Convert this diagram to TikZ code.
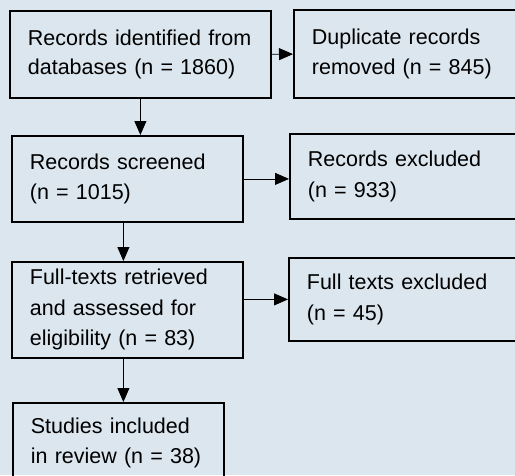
\documentclass[tikz,border=0pt]{standalone}
\usepackage{fontspec}
\setmainfont{Liberation Sans}[WordSpace=0.7]
\usepackage{tikz}
\usetikzlibrary{arrows.meta, positioning}
\definecolor{bgblue}{RGB}{219,230,238}

\begin{document}
\begin{tikzpicture}[
        x=1pt, y=-1pt,
        every node/.style={font=\fontsize{21.5}{30.5}\selectfont},
        stage/.style={draw, line width=1.8pt, anchor=north west, align=left,
          inner xsep=18pt, inner ysep=0pt},
        flow/.style={-{Triangle[length=14pt, width=12pt]}, line width=0.8pt},
    ]
        \fill[bgblue] (0,0) rectangle (515,475);
        \useasboundingbox (0,0) rectangle (515,475);
        \clip (0,0) rectangle (515,475);

        % left column
        \node[stage, minimum width=261pt, minimum height=87pt, text width=225pt]
          at (9,10) (identified) {\raisebox{-2pt}{Records identified from}\\databases (n = 1860)};
        \node[stage, minimum width=231pt, minimum height=86pt, text width=195pt]
          at (11,135) (screened) {Records screened\\(n = 1015)};
        \node[stage, minimum width=231pt, minimum height=96pt, text width=195pt]
          at (11,261) (fulltext) {Full-texts retrieved\\and assessed for\\eligibility (n = 83)};
        \node[stage, minimum width=211pt, minimum height=80pt, text width=175pt]
          at (12,402) (included) {Studies included\\in review (n = 38)};

        % right column
        \node[stage, minimum width=240pt, minimum height=88pt, text width=204pt]
          at (293,9) (duplicates) {Duplicate records\\removed (n = 845)};
        \node[stage, minimum width=240pt, minimum height=85pt, text width=204pt]
          at (289,133) (excluded) {Records excluded\\(n = 933)};
        \node[stage, minimum width=240pt, minimum height=83pt, text width=204pt]
          at (288,257) (ftexcluded) {Full texts excluded\\(n = 45)};

        \draw[flow] (identified) -- (duplicates);
        \draw[flow] (identified.south) -- (identified.south |- screened.north);
        \draw[flow] (screened.east) -- (screened.east -| excluded.west);
        \draw[flow] ([xshift=-4pt]screened.south) -- ([xshift=-4pt]fulltext.north);
        \draw[flow] (ftexcluded.west -| fulltext.east) -- (ftexcluded.west);
        \draw[flow] ([xshift=-4pt]fulltext.south) -- ([xshift=-4pt]fulltext.south |- included.north);
    \end{tikzpicture}
\end{document}
